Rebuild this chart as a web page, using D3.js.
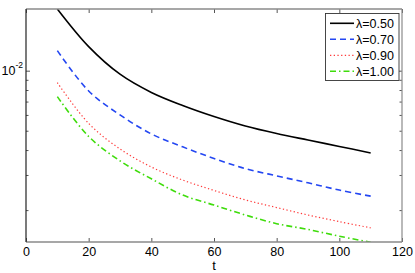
<!DOCTYPE html>
<html>
<head>
<meta charset="utf-8">
<script src="https://cdn.jsdelivr.net/npm/d3@7"></script>
<style>
  body { margin: 0; background: white; }
  svg { display: block; font-family: "Liberation Sans", Arial, Helvetica, sans-serif; }
</style>
</head>
<body>
<div id="chart"></div>
<script>
var width = 415
var height = 273
var margin = {top: 9, right: 13, bottom: 31, left: 26}

// data
var t = [10, 20, 30, 40, 50, 60, 70, 80, 90, 100, 110]
var lambdas = ["0.50", "0.70", "0.90", "1.00"]
var lam050 = [0.02038, 0.01320, 0.00960, 0.00778, 0.00669, 0.00589, 0.00528, 0.00484, 0.00449, 0.00417, 0.00387]
var lam070 = [0.01260, 0.00791, 0.00600, 0.00482, 0.00415, 0.00363, 0.00323, 0.00297, 0.00274, 0.00252, 0.00235]
var lam090 = [0.00871, 0.00544, 0.00405, 0.00329, 0.00283, 0.00251, 0.00225, 0.00206, 0.00189, 0.00175, 0.00163]
var lam100 = [0.00741, 0.00468, 0.00353, 0.00287, 0.00238, 0.00212, 0.00189, 0.00171, 0.00160, 0.00148, 0.00138]
var xTicks = [0, 20, 40, 60, 80, 100, 120]
var yMinor = [0.002, 0.003, 0.004, 0.005, 0.006, 0.007, 0.008, 0.009]
var yMajor = [0.01]

var seriesValues = [lam050, lam070, lam090, lam100]
var colors = ["#000000", "#2447f2", "#ff3b3b", "#3fdc0c"]
var dashes = [null, "6,4", "1.3,2.4", "6,3,1.5,3"]
var widths = [1.6, 1.6, 1.2, 1.6]

var x_scale = d3.scaleLinear()
    .domain([0, 120])
    .range([margin.left, width - margin.right])

var y_scale = d3.scaleLog()
    .domain([0.001384, 0.02038])
    .range([height - margin.bottom, margin.top])

var svg = d3.select("#chart")
    .append("svg")
    .attr("width", width)
    .attr("height", height)

var plotBottom = height - margin.bottom
var plotRight = width - margin.right

// curves
var clip = svg.append("clipPath").attr("id", "clip")
    .append("rect")
    .attr("x", margin.left)
    .attr("y", margin.top)
    .attr("width", plotRight - margin.left)
    .attr("height", plotBottom - margin.top)

var line = d3.line()
    .x(function(d, i) { return x_scale(t[i]) })
    .y(function(d) { return y_scale(d) })
    .curve(d3.curveCatmullRom.alpha(0.5))

svg.append("g")
    .attr("clip-path", "url(#clip)")
    .selectAll("path")
    .data(seriesValues)
    .enter()
    .append("path")
    .attr("d", line)
    .attr("fill", "none")
    .attr("stroke", function(d, i) { return colors[i] })
    .attr("stroke-width", function(d, i) { return widths[i] })
    .attr("stroke-dasharray", function(d, i) { return dashes[i] })

// axes, ticks pointing inward like matlab
var xAxis = d3.axisBottom(x_scale).tickValues(xTicks).tickSize(-4).tickPadding(5)
var xAxisTop = d3.axisTop(x_scale).tickValues(xTicks).tickSize(-4).tickFormat("")

var gx = svg.append("g")
    .attr("transform", "translate(0," + plotBottom + ")")
    .call(xAxis)
svg.append("g")
    .attr("transform", "translate(0," + margin.top + ")")
    .call(xAxisTop)

var yAxisMinor = d3.axisLeft(y_scale).tickValues(yMinor).tickSize(-2.5).tickFormat("")
var yAxisMajor = d3.axisLeft(y_scale).tickValues(yMajor).tickSize(-4).tickPadding(5).tickFormat("")
var yAxisMinorR = d3.axisRight(y_scale).tickValues(yMinor).tickSize(-2.5).tickFormat("")
var yAxisMajorR = d3.axisRight(y_scale).tickValues(yMajor).tickSize(-4).tickFormat("")

svg.append("g").attr("transform", "translate(" + margin.left + ",0)").call(yAxisMinor)
var gy = svg.append("g").attr("transform", "translate(" + margin.left + ",0)").call(yAxisMajor)
svg.append("g").attr("transform", "translate(" + plotRight + ",0)").call(yAxisMinorR)
svg.append("g").attr("transform", "translate(" + plotRight + ",0)").call(yAxisMajorR)

svg.selectAll(".domain").remove()
svg.selectAll(".tick line").attr("stroke", "#555")

gx.selectAll(".tick text")
    .attr("font-size", 12.5)
    .attr("fill", "#000")

// 10^-2 label
gy.selectAll(".tick text")
    .attr("font-size", 12.5)
    .attr("fill", "#000")
    .attr("x", -3)
    .attr("dy", "0.32em")
    .each(function(d) {
        var txt = d3.select(this)
        txt.text(null)
        txt.append("tspan").text("10")
        txt.append("tspan").attr("font-size", 8.5).attr("dy", "-0.8em").text("-2")
    })

// box
svg.append("line")
    .attr("x1", margin.left).attr("x2", plotRight)
    .attr("y1", margin.top).attr("y2", margin.top)
    .attr("stroke", "#8a8a8a").attr("stroke-width", 1.4)
svg.append("line")
    .attr("x1", plotRight).attr("x2", plotRight)
    .attr("y1", margin.top).attr("y2", plotBottom)
    .attr("stroke", "#8a8a8a").attr("stroke-width", 1.2)
svg.append("line")
    .attr("x1", margin.left).attr("x2", plotRight)
    .attr("y1", plotBottom).attr("y2", plotBottom)
    .attr("stroke", "#8a8a8a").attr("stroke-width", 1.4)
svg.append("line")
    .attr("x1", margin.left).attr("x2", margin.left)
    .attr("y1", margin.top).attr("y2", plotBottom)
    .attr("stroke", "#222").attr("stroke-width", 1.2)

// x label
svg.append("text")
    .attr("x", (margin.left + plotRight) / 2)
    .attr("y", 270)
    .attr("text-anchor", "middle")
    .attr("font-size", 13)
    .text("t")

// legend
var legend = svg.append("g")

legend.append("rect")
    .attr("x", 325.5)
    .attr("y", 13.5)
    .attr("width", 73.5)
    .attr("height", 67)
    .attr("fill", "white")
    .attr("stroke", "#333")
    .attr("stroke-width", 0.9)

var rows = legend.selectAll(".row")
    .data(lambdas)
    .enter()
    .append("g")
    .attr("transform", function(d, i) { return "translate(0," + (23.3 + i * 16) + ")" })

rows.append("line")
    .attr("x1", 330).attr("x2", 354)
    .attr("y1", 0).attr("y2", 0)
    .attr("stroke", function(d, i) { return colors[i] })
    .attr("stroke-width", function(d, i) { return widths[i] })
    .attr("stroke-dasharray", function(d, i) { return dashes[i] })

rows.append("text")
    .attr("x", 356)
    .attr("y", 0)
    .attr("dy", "0.36em")
    .attr("font-size", 12.5)
    .text(function(d) { return "\u03bb=" + d })
</script>
</body>
</html>
